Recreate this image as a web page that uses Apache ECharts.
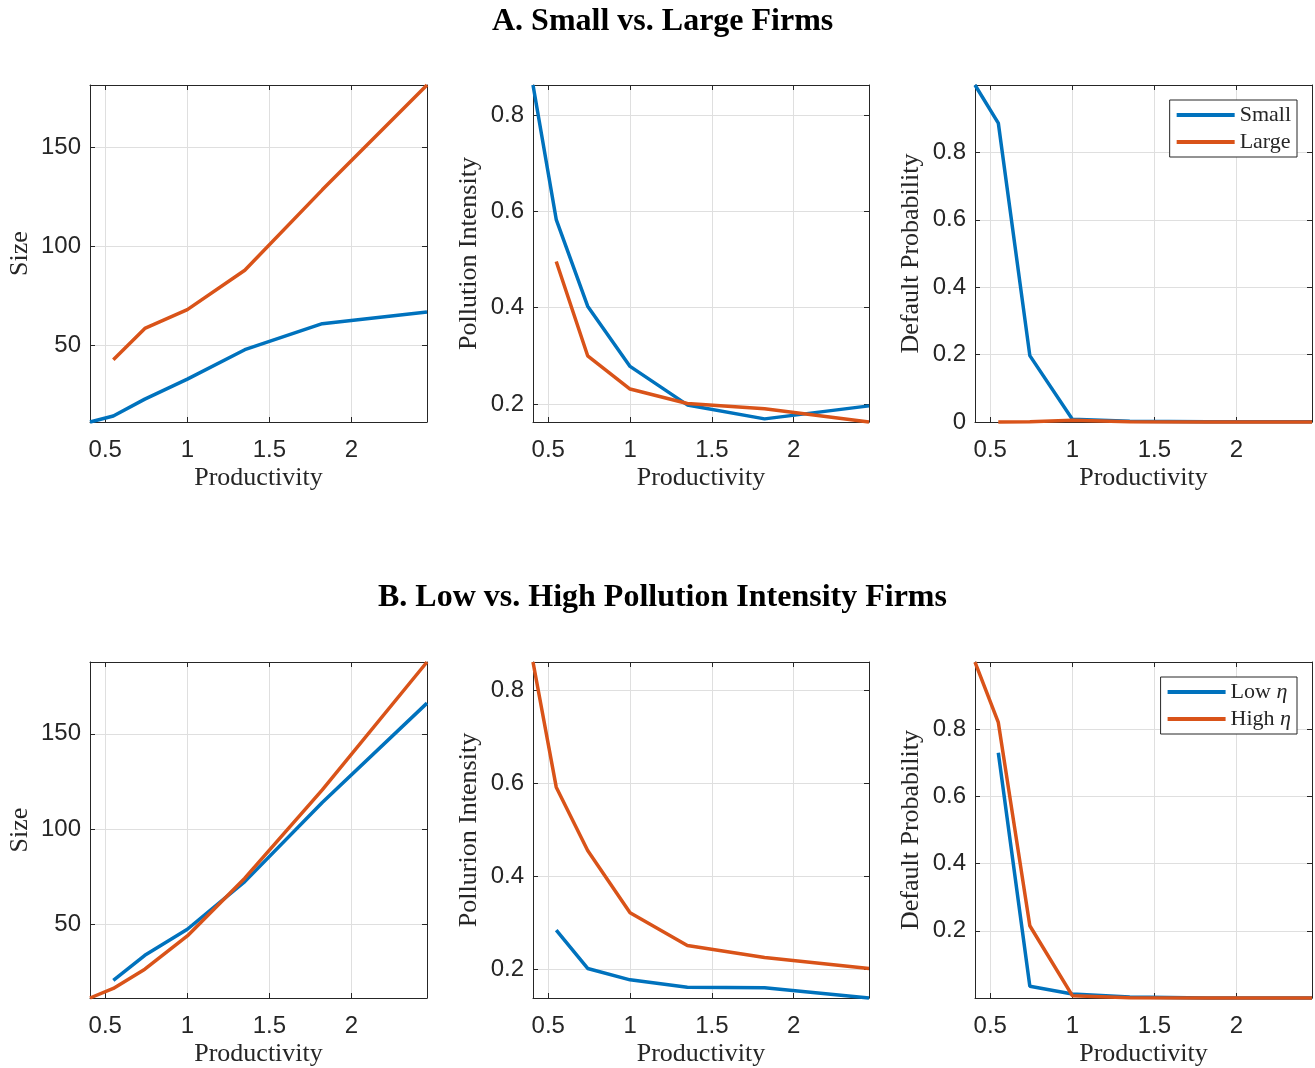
<!DOCTYPE html>
<html>
<head>
<meta charset="utf-8">
<script src="https://cdn.jsdelivr.net/npm/echarts@6/dist/echarts.min.js"></script>
<style>
html,body{margin:0;padding:0;background:#fff;}
#chart{width:1315px;height:1068px;}
</style>
</head>
<body>
<div id="chart"></div>
<script>
// ---- data ----
const titleA = 'A. Small vs. Large Firms';
const titleB = 'B. Low vs. High Pollution Intensity Firms';
const xTickValues = [0.5, 1, 1.5, 2];
const prod = [0.407, 0.549, 0.741, 1.0, 1.350, 1.822, 2.460];

const sizeSmall = [11.6, 14.6, 23.1, 33.2, 48.0, 61.1, 67.0];
const sizeLarge = [null, 42.9, 58.7, 68.2, 88.0, 128.5, 181.3];
const pollSmall = [0.8625, 0.583, 0.403, 0.278, 0.198, 0.169, 0.196];
const pollLarge = [null, 0.496, 0.300, 0.231, 0.201, 0.190, 0.1625];
const defSmall = [1.0, 0.887, 0.197, 0.008, 0.002, 0.001, 0.001];
const defLarge = [null, 0.0, 0.001, 0.005, 0.001, 0.0, 0.0];

const sizeLow = [null, 20.6, 33.7, 47.4, 72.4, 113.9, 166.1];
const sizeHigh = [11.3, 16.3, 26.4, 43.9, 74.2, 120.6, 187.7];
const pollLow = [null, 0.284, 0.2015, 0.177, 0.161, 0.160, 0.138];
const pollHigh = [0.860, 0.591, 0.455, 0.321, 0.251, 0.225, 0.2015];
const defLow = [null, 0.73, 0.035, 0.012, 0.003, 0.0001, 0.0001];
const defHigh = [0.9999, 0.82, 0.215, 0.007, 0.001, 0.0001, 0.0001];

const sizeTicks = [50, 100, 150];
const pollTicks = [0.2, 0.4, 0.6, 0.8];
const defTicksA = [0, 0.2, 0.4, 0.6, 0.8];
const defTicksB = [0.2, 0.4, 0.6, 0.8];

const seriesNamesA = ['Small', 'Large'];
const seriesNamesB = ['Low η', 'High η'];
const yNames = ['Size', 'Pollution Intensity', 'Default Probability', 'Size', 'Pollurion Intensity', 'Default Probability'];
const xName = 'Productivity';

// ---- layout / style ----
const BLUE = '#0072BD', ORANGE = '#D95319', AXC = '#262626', GRIDC = '#dfdfdf';
const colLeft = [90, 533, 975];
const colWidth = [337, 336, 337];
const rowTop = [85, 662];
const rowHeight = [337, 337];
const yNameGap = [57, 51, 51, 57, 51, 51];

const panels = [
  {row:0,col:0, y:[sizeSmall,sizeLarge], names:seriesNamesA, ticks:sizeTicks},
  {row:0,col:1, y:[pollSmall,pollLarge], names:seriesNamesA, ticks:pollTicks},
  {row:0,col:2, y:[defSmall,defLarge], names:seriesNamesA, ticks:defTicksA, range:[0,1]},
  {row:1,col:0, y:[sizeLow,sizeHigh], names:seriesNamesB, ticks:sizeTicks},
  {row:1,col:1, y:[pollLow,pollHigh], names:seriesNamesB, ticks:pollTicks},
  {row:1,col:2, y:[defLow,defHigh], names:seriesNamesB, ticks:defTicksB, range:[0,1]},
];

const xMin = Math.min(...prod), xMax = Math.max(...prod);
const grids = [], xAxes = [], yAxes = [], series = [];
const labelFont = {fontFamily:'Liberation Sans, Arial, sans-serif', fontSize:24, color:AXC};
const nameFont = {fontFamily:'Liberation Serif, Times New Roman, serif', fontSize:26, color:AXC};

panels.forEach((p, i) => {
  grids.push({left:colLeft[p.col], top:rowTop[p.row], width:colWidth[p.col], height:rowHeight[p.row], containLabel:false});
  const vals = p.y[0].concat(p.y[1]).filter(v => v !== null);
  const yMin = p.range ? p.range[0] : Math.min(...vals);
  const yMax = p.range ? p.range[1] : Math.max(...vals);
  const tickStyle = {show:true, inside:true, length:5, lineStyle:{color:AXC, width:1}};
  xAxes.push({type:'value', gridIndex:i, position:'bottom', min:xMin, max:xMax,
    axisLine:{show:true, onZero:false, lineStyle:{color:AXC, width:1}},
    axisTick:Object.assign({customValues:xTickValues}, tickStyle),
    axisLabel:Object.assign({customValues:xTickValues, margin:16, formatter:v=>String(v)}, labelFont),
    splitLine:{show:true, lineStyle:{color:GRIDC, width:1}},
    name:xName, nameLocation:'middle', nameGap:43, nameTextStyle:nameFont});
  xAxes.push({type:'value', gridIndex:i, position:'top', min:xMin, max:xMax,
    axisLine:{show:true, onZero:false, lineStyle:{color:AXC, width:1}},
    axisTick:Object.assign({customValues:xTickValues}, tickStyle),
    axisLabel:{show:false}, splitLine:{show:false}});
  yAxes.push({type:'value', gridIndex:i, position:'left', min:yMin, max:yMax,
    axisLine:{show:true, onZero:false, lineStyle:{color:AXC, width:1}},
    axisTick:Object.assign({customValues:p.ticks}, tickStyle),
    axisLabel:Object.assign({customValues:p.ticks, margin:9, formatter:v=>String(v)}, labelFont),
    splitLine:{show:true, lineStyle:{color:GRIDC, width:1}},
    name:yNames[i], nameLocation:'middle', nameGap:yNameGap[i], nameTextStyle:nameFont});
  yAxes.push({type:'value', gridIndex:i, position:'right', min:yMin, max:yMax,
    axisLine:{show:true, onZero:false, lineStyle:{color:AXC, width:1}},
    axisTick:Object.assign({customValues:p.ticks}, tickStyle),
    axisLabel:{show:false}, splitLine:{show:false}});

  [BLUE, ORANGE].forEach((c, k) => {
    const data = [];
    prod.forEach((x, j) => { if (p.y[k][j] !== null) data.push([x, p.y[k][j]]); });
    series.push({type:'line', name:p.names[k], xAxisIndex:2*i, yAxisIndex:2*i, data:data,
      showSymbol:false, symbol:'none', clip:false, color:c,
      lineStyle:{color:c, width:3.5}, z:5, silent:true, animation:false});
  });
});

const legendText = {fontFamily:'Liberation Serif, Times New Roman, serif', fontSize:22, color:AXC,
  rich:{n:{fontFamily:'Liberation Serif, Times New Roman, serif', fontSize:22, color:AXC},
        e:{fontFamily:'Liberation Serif, Times New Roman, serif', fontSize:22, fontStyle:'italic', color:AXC}}};

const option = {
  backgroundColor:'#fff',
  animation:false,
  title:[
    {text:titleA, left:487, top:1, padding:5, textStyle:{fontFamily:'Liberation Serif, Times New Roman, serif', fontWeight:'bold', fontSize:32, color:'#000'}},
    {text:titleB, left:373, top:577, padding:5, textStyle:{fontFamily:'Liberation Serif, Times New Roman, serif', fontWeight:'bold', fontSize:32, color:'#000'}}
  ],
  grid:grids, xAxis:xAxes, yAxis:yAxes, series:series,
  legend:[
    {data:seriesNamesA, orient:'vertical', right:18, top:100, icon:'rect', itemWidth:58, itemHeight:4, itemGap:5,
     padding:[4,6,4,7], borderColor:AXC, borderWidth:1, backgroundColor:'#fff', textStyle:legendText, selectedMode:false},
    {data:seriesNamesB, orient:'vertical', right:18, top:677, icon:'rect', itemWidth:58, itemHeight:4, itemGap:5,
     padding:[4,6,4,7], borderColor:AXC, borderWidth:1, backgroundColor:'#fff', textStyle:legendText, selectedMode:false,
     formatter: name => { const parts = name.split(' '); return '{n|' + parts[0] + ' }{e|' + parts[1] + '}'; }}
  ]
};
const chart = echarts.init(document.getElementById('chart'), null, {renderer:'canvas'});
chart.setOption(option);
</script>
</body>
</html>
